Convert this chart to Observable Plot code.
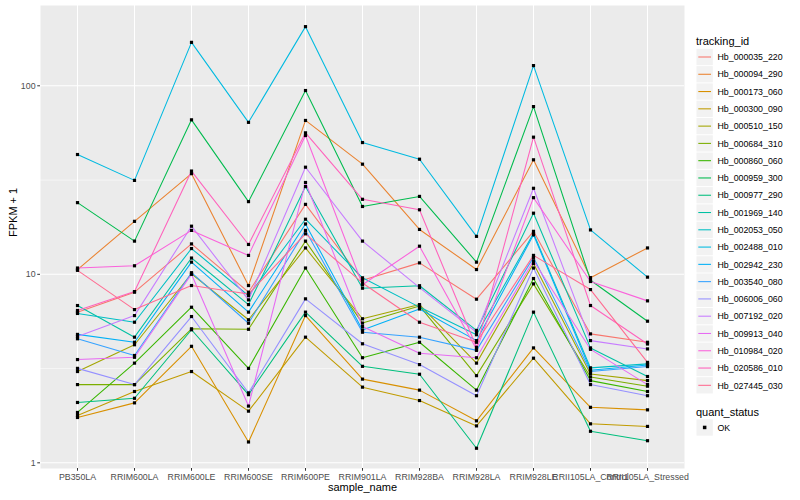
<!DOCTYPE html>
<html>
<head>
<meta charset="utf-8">
<script src="https://cdn.jsdelivr.net/npm/d3@7"></script>
<script src="https://cdn.jsdelivr.net/npm/@observablehq/plot@0.6"></script>
<style>
  body { margin: 0; background: white; }
  #wrap { position: relative; width: 800px; height: 500px; font-family: "Liberation Sans", Arial, sans-serif; }
  #legend { position: absolute; left: 0; top: 0; pointer-events: none; }
  [aria-label="y-axis tick label"], [aria-label="x-axis tick label"] { fill: #4D4D4D; }
  [aria-label="y-axis tick"], [aria-label="x-axis tick"] { stroke: #333333; }
</style>
</head>
<body>
<div id="wrap"></div>
<script>
const samples = ["PB350LA","RRIM600LA","RRIM600LE","RRIM600SE","RRIM600PE","RRIM901LA","RRIM928BA","RRIM928LA","RRIM928LE","RRII105LA_Control","RRII105LA_Stressed"];
const trackingIds = ["Hb_000035_220","Hb_000094_290","Hb_000173_060","Hb_000300_090","Hb_000510_150","Hb_000684_310","Hb_000860_060","Hb_000959_300","Hb_000977_290","Hb_001969_140","Hb_002053_050","Hb_002488_010","Hb_002942_230","Hb_003540_080","Hb_006006_060","Hb_007192_020","Hb_009913_040","Hb_010984_020","Hb_020586_010","Hb_027445_030"];
const colors = ["#F8766D","#EA8331","#D89000","#C09B00","#A3A500","#7CAE00","#39B600","#00BB4E","#00BF7D","#00C1A3","#00BFC4","#00BAE0","#00B0F6","#35A2FF","#9590FF","#C77CFF","#E76BF3","#FA62DB","#FF62BC","#FF6C91"];
const yTicks = [1, 10, 100];
const yMinor = [3.162, 31.62];

// FPKM + 1 per sample (same order as samples)
const hb_000035_220 = [6.3, 8.04, 14.5, 8.04, 23.5, 9.3, 11.5, 7.38, 16.9, 4.83, 4.36];
const hb_000094_290 = [10.6, 19.1, 34.2, 8.72, 65.5, 38.4, 17.3, 10.6, 40.5, 9.6, 13.8];
const hb_000173_060 = [1.74, 2.08, 4.15, 1.29, 6.04, 2.78, 2.43, 1.67, 4.07, 1.97, 1.91];
const hb_000300_090 = [1.78, 2.39, 3.05, 1.88, 4.64, 2.52, 2.14, 1.57, 3.59, 1.61, 1.56];
const hb_000510_150 = [3.05, 4.23, 10.07, 5.74, 13.8, 5.81, 6.91, 3.38, 11.4, 2.96, 2.73];
const hb_000684_310 = [2.60, 2.60, 5.14, 5.11, 15.0, 5.51, 6.80, 2.9, 8.9, 2.85, 2.55];
const hb_000860_060 = [1.85, 3.38, 6.69, 3.17, 10.8, 3.61, 4.36, 2.43, 9.5, 2.73, 2.39];
const hb_000959_300 = [24.0, 15.0, 66, 24.3, 94.4, 22.9, 25.9, 11.6, 77.6, 9.3, 5.64];
const hb_000977_290 = [2.09, 2.20, 5.08, 2.30, 6.3, 3.25, 2.95, 1.195, 6.3, 1.47, 1.31];
const hb_001969_140 = [6.83, 4.64, 12.2, 6.91, 29.2, 8.44, 8.7, 5.04, 21.1, 4.07, 2.87];
const hb_002053_050 = [6.2, 5.57, 13.7, 7.7, 19.6, 9.58, 6.70, 4.78, 16.5, 3.19, 3.35];
const hb_002488_010 = [43.2, 31.5, 170, 64, 206, 50, 40.8, 15.9, 128, 17.2, 9.66];
const hb_002942_230 = [4.8, 4.36, 11.6, 6.30, 18.5, 5.07, 6.55, 4.45, 16.2, 3.1, 3.3];
const hb_003540_080 = [4.55, 3.71, 10.2, 5.5, 17.1, 4.93, 4.64, 3.95, 12.3, 3.05, 3.24];
const hb_006006_060 = [3.17, 2.60, 5.97, 2.35, 7.41, 4.28, 3.32, 2.27, 10.8, 2.60, 2.27];
const hb_007192_020 = [4.68, 6.04, 18.0, 7.32, 37, 15, 8.5, 4.93, 28.6, 4.45, 4.02];
const hb_009913_040 = [3.53, 3.63, 10.0, 2.0, 30.7, 5.29, 3.81, 3.61, 11.8, 4.0, 2.6];
const hb_010984_020 = [10.8, 11.1, 17.1, 12.6, 54.5, 8.8, 14.1, 4.0, 25.5, 9.16, 7.23];
const hb_020586_010 = [6.43, 8.1, 35.3, 14.4, 56.3, 25, 22, 4.1, 53.4, 6.83, 4.27];
const hb_027445_030 = [10.5, 6.5, 8.72, 7.87, 16.4, 9.0, 5.57, 4.36, 12.6, 8.3, 3.41];

const seriesValues = [hb_000035_220, hb_000094_290, hb_000173_060, hb_000300_090, hb_000510_150, hb_000684_310, hb_000860_060, hb_000959_300, hb_000977_290, hb_001969_140, hb_002053_050, hb_002488_010, hb_002942_230, hb_003540_080, hb_006006_060, hb_007192_020, hb_009913_040, hb_010984_020, hb_020586_010, hb_027445_030];

const rows = [];
trackingIds.forEach((id, i) => {
  seriesValues[i].forEach((v, j) => rows.push({id, sample: samples[j], value: v, status: "OK"}));
});

const font = '"Liberation Sans", Arial, Helvetica, sans-serif';

const chart = Plot.plot({
  width: 800,
  height: 500,
  marginLeft: 40,
  marginRight: 116,
  marginTop: 5,
  marginBottom: 32,
  style: {fontFamily: font, fontSize: "8.8px", background: "white", overflow: "visible"},
  x: {type: "point", domain: samples, padding: 0.6, label: null},
  y: {type: "log", domain: [0.933, 266.7], label: null},
  color: {domain: trackingIds, range: colors},
  marks: [
    Plot.frame({fill: "#EBEBEB", stroke: null}),
    Plot.ruleY(yMinor, {stroke: "white", strokeWidth: 0.53}),
    Plot.ruleY(yTicks, {stroke: "white", strokeWidth: 1.07}),
    Plot.ruleX(samples, {stroke: "white", strokeWidth: 1.07}),
    Plot.axisY(yTicks, {tickSize: 2.75, tickPadding: 2.2, tickFormat: d => String(d), label: null, fontSize: 8.8}),
    Plot.axisX({tickSize: 2.75, tickPadding: 2.5, label: null, fontSize: 8.8}),
    Plot.line(rows, {x: "sample", y: "value", z: "id", stroke: "id", strokeWidth: 1.07}),
    Plot.dot(rows, {x: "sample", y: "value", symbol: "square", r: 1.8, fill: "black", stroke: null}),
    Plot.text(["sample_name"], {frameAnchor: "bottom", dy: 22, fontSize: 11, fill: "black"}),
    Plot.text(["FPKM + 1"], {frameAnchor: "left", dx: -27, rotate: -90, fontSize: 11, fill: "black"})
  ]
});

const wrap = document.getElementById("wrap");
wrap.appendChild(chart);

// Legend (ggplot-style, right side)
const lg = d3.select(wrap).append("svg")
  .attr("id", "legend")
  .attr("width", 800).attr("height", 500)
  .style("font-family", font);

lg.append("text").attr("x", 696).attr("y", 44.5).attr("font-size", 11).attr("fill", "black").text("tracking_id");
const keyH = 17.28, y0 = 57;
trackingIds.forEach((id, i) => {
  const cy = y0 + i * keyH;
  lg.append("rect").attr("x", 696.5).attr("y", cy - keyH / 2 + 0.5).attr("width", 16.3).attr("height", keyH - 1).attr("fill", "#F2F2F2");
  lg.append("line").attr("x1", 698.3).attr("x2", 711).attr("y1", cy).attr("y2", cy).attr("stroke", colors[i]).attr("stroke-width", 1.07);
  lg.append("text").attr("x", 717.5).attr("y", cy + 3.2).attr("font-size", 8.8).attr("fill", "black").text(id);
});
lg.append("text").attr("x", 696).attr("y", 415.5).attr("font-size", 11).attr("fill", "black").text("quant_status");
lg.append("rect").attr("x", 696.5).attr("y", 427.5 - keyH / 2 + 0.5).attr("width", 16.3).attr("height", keyH - 1).attr("fill", "#F2F2F2");
lg.append("rect").attr("x", 702.9).attr("y", 425.7).attr("width", 3.5).attr("height", 3.5).attr("fill", "black");
lg.append("text").attr("x", 717.5).attr("y", 430.7).attr("font-size", 8.8).attr("fill", "black").text("OK");
</script>
</body>
</html>
